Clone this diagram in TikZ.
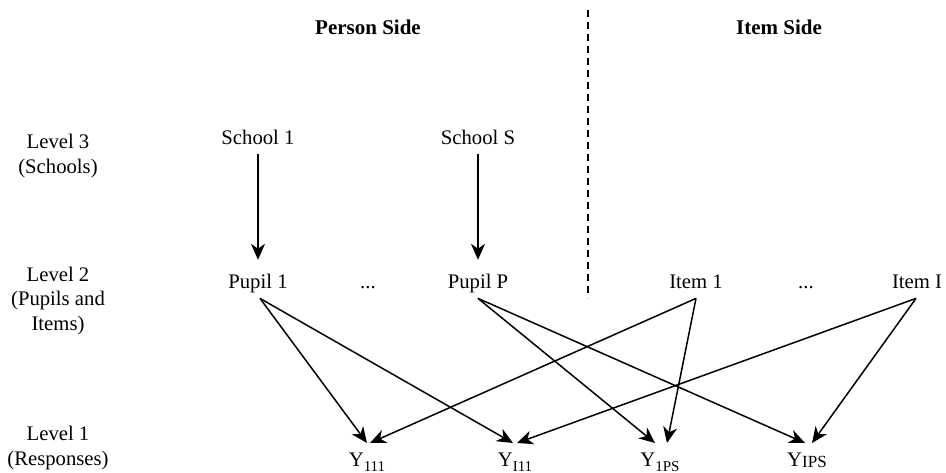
\documentclass[tikz,border=0pt]{standalone}
\usepackage{fontspec}
\setmainfont{Liberation Serif}
\usetikzlibrary{arrows.meta}
\begin{document}
\begin{tikzpicture}[x=1pt,y=-1pt,
  lbl/.style={font=\fontsize{20.7}{24.5}\selectfont, inner sep=4pt, text height=15.5pt, text depth=5.2pt, anchor=base},
  lvl/.style={font=\fontsize{20.7}{24.5}\selectfont, align=center, inner sep=0pt},
  hdr/.style={font=\fontsize{21}{25}\selectfont\bfseries, inner sep=0pt, anchor=base},
  ynode/.style={font=\fontsize{20.7}{24.5}\selectfont, inner sep=0pt, text height=14.5pt, text depth=4pt, outer sep=8.5pt, anchor=base},
  arr/.style={line width=1.5pt, -{Stealth[length=16pt,width=14pt,inset=5pt]}},
  divider/.style={line width=1.4pt, dash pattern=on 7pt off 5pt}
]
\useasboundingbox (0,0) rectangle (946,473);

% headers
\node[hdr] (hp) at (368,35) {Person Side};
\node[hdr] (hi) at (779,35) {Item Side};

% divider
\coordinate (dtop) at (588,10);
\coordinate (dbot) at (588,298);
\draw[divider] (dtop) -- (dbot);

% level labels
\node[lvl] (l3) at (58,156) {Level 3\\(Schools)};
\node[lvl] (l2) at (58,301) {Level 2\\(Pupils and\\Items)};
\node[lvl] (l1) at (58,448) {Level 1\\(Responses)};

% level 3
\node[lbl] (s1) at (258,145) {School 1};
\node[lbl] (ss) at (478,145) {School S};

% level 2
\node[lbl] (p1) at (258,289) {Pupil 1};
\node[lbl] (pd) at (368,289) {...};
\node[lbl] (pp) at (478,289) {Pupil P};
\node[lbl] (i1) at (696,289) {Item 1};
\node[lbl] (id) at (806,289) {...};
\node[lbl] (ii) at (917,289) {Item I};

% level 1
\node[ynode] (y1) at (367,466) {Y\raisebox{-0.28em}{\fontsize{15}{15}\selectfont 111}};
\node[ynode] (y2) at (515,466) {Y\raisebox{-0.28em}{\fontsize{15}{15}\selectfont I11}};
\node[ynode] (y3) at (660,466) {Y\raisebox{-0.28em}{\fontsize{15}{15}\selectfont 1PS}};
\node[ynode] (y4) at (807,466) {Y\raisebox{-0.05em}{\fontsize{17}{17}\selectfont IPS}};

% school arrows
\draw[arr, shorten >=9.5pt] (s1.south) -- (p1.north);
\draw[arr, shorten >=9.5pt] (ss.south) -- (pp.north);

% response arrows
\draw[arr] ([xshift=2pt]p1.south) -- ([xshift=0pt]y1.north);
\draw[arr] ([xshift=2pt]p1.south) -- ([xshift=-2pt]y2.north);
\draw[arr] (pp.south) -- ([xshift=-5pt]y3.north);
\draw[arr] (pp.south) -- ([xshift=-2pt]y4.north);
\draw[arr] (i1.south) -- ([xshift=3pt]y1.north);
\draw[arr] (i1.south) -- ([xshift=7pt]y3.north);
\draw[arr] ([xshift=-1pt]ii.south) -- ([xshift=2pt]y2.north);
\draw[arr] ([xshift=-1pt]ii.south) -- ([xshift=5pt]y4.north);
\end{tikzpicture}
\end{document}
